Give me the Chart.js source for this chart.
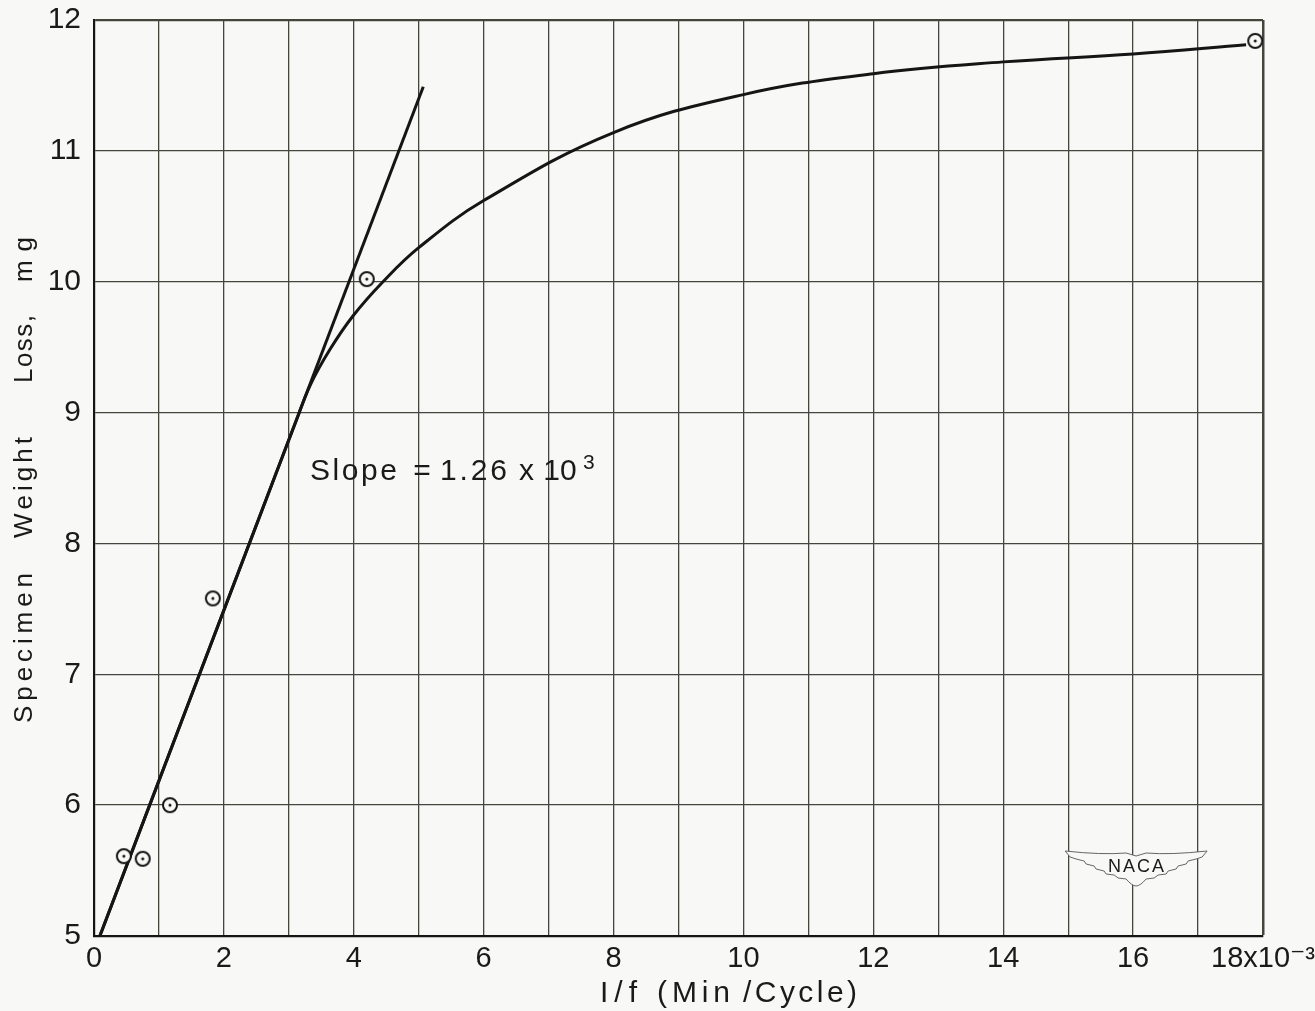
<!DOCTYPE html>
<html><head><meta charset="utf-8">
<script src="https://cdn.jsdelivr.net/npm/chart.js@4"></script>
<style>html,body{margin:0;padding:0;background:#f8f8f6;overflow:hidden}</style>
</head><body>
<canvas id="c" width="1315" height="1011"></canvas>
<script>
// ---- data ----
const xTickValues = [0, 2, 4, 6, 8, 10, 12, 14, 16, 18];
const xTickLabels = ['0', '2', '4', '6', '8', '10', '12', '14', '16', '18x10⁻³'];
const yTickValues = [5, 6, 7, 8, 9, 10, 11, 12];
const yTickLabels = ['5', '6', '7', '8', '9', '10', '11', '12'];
const measuredX = [0.46, 0.75, 1.17, 1.83, 4.20, 17.88];
const measuredY = [5.61, 5.59, 6.00, 7.58, 10.02, 11.84];
const slopeLineX = [0.09, 5.07];
const slopeLineY = [5.00, 11.49];
const curveX = [0.09, 1.5, 2.5, 3.1, 3.33, 3.63, 3.99, 4.45, 5.0, 6.0, 8.0, 10.0, 12.0, 14.0, 16.0, 17.74];
const curveY = [5.00, 6.84, 8.14, 8.92, 9.21, 9.48, 9.74, 10.0, 10.26, 10.62, 11.14, 11.43, 11.59, 11.68, 11.74, 11.81];
const xTitleWords = ['I/f', '(Min', '/Cycle)'];
const yTitleWords = ['Specimen', 'Weight', 'Loss,', 'mg'];
const slopeWords = ['Slope', '=', '1.26', 'x', '10'];
const slopeExp = '3';

const BG = '#f8f8f6';
const INK = '#151515';
const GRID = '#44463e';
const FONT = '"Liberation Sans", "DejaVu Sans", sans-serif';

function zip(xs, ys) { return xs.map((x, i) => ({x: x, y: ys[i]})); }

// marker: circle with centre dot
const mk = document.createElement('canvas');
mk.width = 20; mk.height = 20;
(function () {
  const g = mk.getContext('2d');
  g.beginPath(); g.arc(10, 10, 7, 0, Math.PI * 2);
  g.fillStyle = BG; g.fill();
  g.lineWidth = 2; g.strokeStyle = INK; g.stroke();
  g.beginPath(); g.arc(10, 10, 1.5, 0, Math.PI * 2);
  g.fillStyle = INK; g.fill();
})();

// draw a word inside span [x0,x1]: spread letters if room, otherwise centre it
function drawSpaced(ctx, text, x0, x1, y) {
  const chars = [...text];
  let natural = 0;
  const ws = chars.map(c => { const w = ctx.measureText(c).width; natural += w; return w; });
  const span = x1 - x0;
  let extra = chars.length > 1 ? (span - natural) / (chars.length - 1) : 0;
  if (extra < 0) extra = 0;
  const total = natural + extra * (chars.length - 1);
  let cx = x0 + (span - total) / 2;
  chars.forEach((c, i) => { ctx.fillText(c, cx, y); cx += ws[i] + extra; });
}

// word extents (pixels along the text direction) — layout only
const xTitleSpans = [[600, 637], [657, 730], [743, 857]];
const yTitleSpans = [[0, 150], [185, 286], [340, 408], [441, 486]];
const slopeSpans = [[310, 397], [417, 427], [440, 507], [520, 533], [547, 573]];

const textPlugin = {
  id: 'texts',
  beforeDraw(chart) {
    const ctx = chart.ctx;
    ctx.save();
    ctx.fillStyle = BG;
    ctx.fillRect(0, 0, chart.width, chart.height);
    ctx.restore();
  },
  afterDraw(chart) {
    const ctx = chart.ctx;
    const a = chart.chartArea;
    const xs = chart.scales.x;
    ctx.save();
    ctx.fillStyle = '#1a1a1a';
    ctx.textBaseline = 'alphabetic';
    ctx.textAlign = 'left';
    // x title
    ctx.font = '30px ' + FONT;
    xTitleWords.forEach((w, i) => drawSpaced(ctx, w, xTitleSpans[i][0], xTitleSpans[i][1], 1002));
    // y title
    ctx.save();
    ctx.translate(32, 723);
    ctx.rotate(-Math.PI / 2);
    ctx.font = '26px ' + FONT;
    yTitleWords.forEach((w, i) => drawSpaced(ctx, w, yTitleSpans[i][0], yTitleSpans[i][1], 0));
    ctx.restore();
    // slope annotation
    ctx.font = '30px ' + FONT;
    slopeWords.forEach((w, i) => drawSpaced(ctx, w, slopeSpans[i][0], slopeSpans[i][1], 480));
    ctx.font = '21px ' + FONT;
    ctx.fillText(slopeExp, 583, 469);

    // NACA wing logo
    const cx = xs.getPixelForValue(16) + 3, cy = a.bottom - 71;
    ctx.beginPath();
    ctx.moveTo(cx - 71, cy - 14);
    ctx.quadraticCurveTo(cx - 35, cy - 10, cx - 10, cy - 12);
    ctx.lineTo(cx, cy - 9);
    ctx.lineTo(cx + 10, cy - 12);
    ctx.quadraticCurveTo(cx + 35, cy - 10, cx + 71, cy - 14);
    const feather = [[60,-6],[52,-4],[50,-1],[42,1],[40,4],[32,6],[30,9],[22,10],[18,13],[10,14]];
    ctx.lineTo(cx + 66, cy - 8);
    feather.forEach(p => ctx.lineTo(cx + p[0], cy + p[1]));
    ctx.quadraticCurveTo(cx + 4, cy + 21, cx, cy + 21);
    ctx.quadraticCurveTo(cx - 4, cy + 21, cx - 10, cy + 14);
    feather.slice().reverse().forEach(p => ctx.lineTo(cx - p[0], cy + p[1]));
    ctx.lineTo(cx - 66, cy - 8);
    ctx.closePath();
    ctx.fillStyle = BG;
    ctx.fill();
    ctx.lineWidth = 1;
    ctx.strokeStyle = '#666';
    ctx.stroke();
    ctx.fillStyle = '#1a1a1a';
    ctx.font = '18px ' + FONT;
    drawSpaced(ctx, 'NACA', cx - 28, cx + 28, cy + 7);
    ctx.restore();
  }
};

new Chart(document.getElementById('c'), {
  type: 'scatter',
  data: {
    datasets: [
      { data: zip(curveX, curveY), showLine: true, borderColor: INK, borderWidth: 3,
        pointRadius: 0, tension: 0.4, order: 3 },
      { data: zip(slopeLineX, slopeLineY), showLine: true, borderColor: INK, borderWidth: 3,
        pointRadius: 0, order: 2 },
      { data: zip(measuredX, measuredY), showLine: false, pointStyle: mk, pointRadius: 10, order: 1 }
    ]
  },
  plugins: [textPlugin],
  options: {
    responsive: false,
    animation: false,
    devicePixelRatio: 1,
    layout: { padding: { top: 20, right: 52, left: 0, bottom: 0 } },
    plugins: { legend: { display: false }, tooltip: { enabled: false } },
    scales: {
      x: {
        type: 'linear', min: 0, max: 18,
        afterFit(s) { s.height = 75; s.paddingLeft = 0; s.paddingRight = 0; },
        afterBuildTicks(s) { s.ticks = Array.from({length: 19}, (_, i) => ({value: i})); },
        ticks: {
          autoSkip: false, maxRotation: 0, minRotation: 0, padding: 6, color: '#1a1a1a',
          font: { size: 29, family: FONT },
          callback(v) { const i = xTickValues.indexOf(v); return i >= 0 ? xTickLabels[i] : ''; }
        },
        grid: { color: GRID, lineWidth: c => (c.tick && c.tick.value === 18 ? 2.5 : 1.3), drawTicks: false },
        border: { display: true, color: INK, width: 2.2 }
      },
      y: {
        type: 'linear', min: 5, max: 12,
        afterFit(s) { s.width = 94; s.paddingTop = 0; s.paddingBottom = 0; },
        afterBuildTicks(s) { s.ticks = yTickValues.map(v => ({value: v})); },
        ticks: {
          padding: 13, color: '#1a1a1a', font: { size: 30, family: FONT },
          callback(v) { const i = yTickValues.indexOf(v); return i >= 0 ? yTickLabels[i] : ''; }
        },
        grid: { color: GRID, lineWidth: c => (c.tick && c.tick.value === 12 ? 2.2 : 1.3), drawTicks: false },
        border: { display: true, color: INK, width: 2.2 }
      }
    }
  }
});
</script>
</body></html>
